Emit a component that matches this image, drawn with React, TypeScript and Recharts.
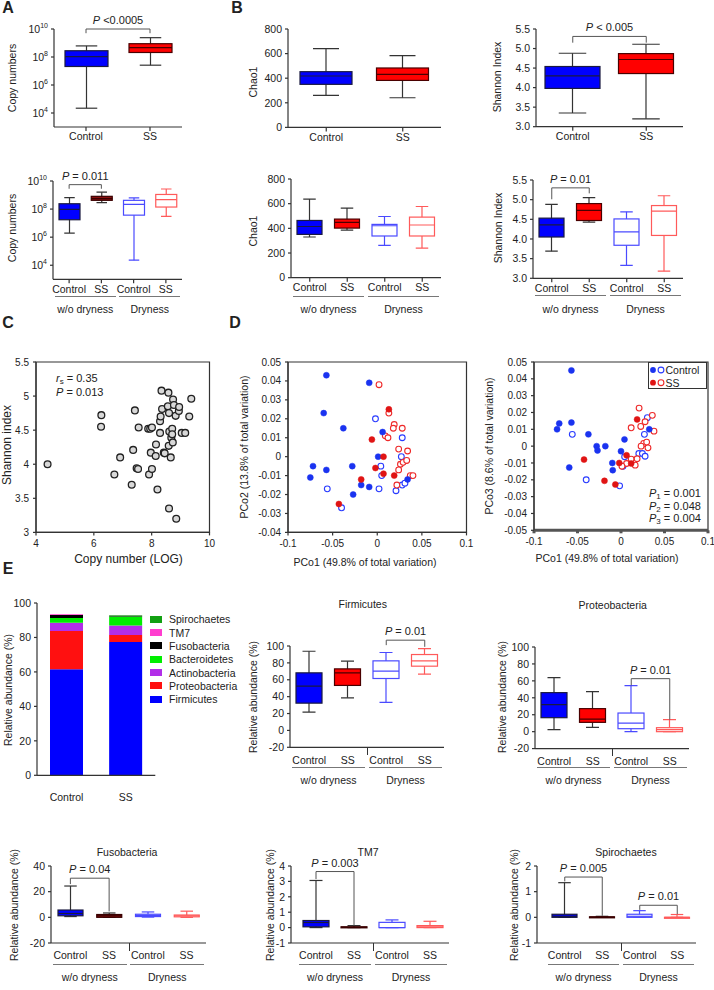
import React from 'react';
import {
  Bar,
  BarChart,
  ComposedChart,
  ReferenceArea,
  ReferenceLine,
  Scatter,
  ScatterChart,
  XAxis,
  YAxis
} from 'recharts';

type Five = [number, number, number, number, number]; // min, q1, median, q3, max
type Kind = 'fb' | 'fr' | 'dr' | 'ob' | 'or';
type Pt = [number, number];
type Bracket = { a: number; b: number; y: number; ya: number; yb: number; text: string };

const FONT = '"Liberation Sans", Arial, Helvetica, sans-serif';
const INK = '#222';
const AXIS = '#333';

// ---------- A / B ----------
const twoGroups = ['Control', 'SS'];
const fourGroups = ['Control', 'SS', 'Control', 'SS'];
const dryGroups = ['w/o dryness', 'Dryness'];

const logTicks = [1e4, 1e6, 1e8, 1e10];
const chaoTicks = [0, 200, 400, 600, 800];
const shannonTicks = [3, 3.5, 4, 4.5, 5, 5.5];

const copyAll: Five[] = [
  [2.2e4, 2.1e7, 1.05e8, 2.8e8, 6.2e8],
  [2.6e7, 2.1e8, 4.7e8, 8.9e8, 2.4e9]
];
const copyByDryness: Five[] = [
  [1.95e6, 1.74e7, 9.5e7, 2.4e8, 6.5e8],
  [2.9e8, 4.2e8, 5.5e8, 8.1e8, 1.6e9],
  [2.3e4, 3.7e7, 2.2e8, 4.2e8, 6.2e8],
  [3.0e7, 1.4e8, 4.7e8, 1.1e9, 2.7e9]
];
const chaoAll: Five[] = [
  [260, 350, 418, 453, 640],
  [241, 382, 431, 483, 583]
];
const shannonAll: Five[] = [
  [3.35, 3.98, 4.3, 4.54, 4.88],
  [3.2, 4.36, 4.72, 4.87, 5.11]
];
const chaoByDryness: Five[] = [
  [330, 351, 415, 464, 637],
  [386, 402, 448, 475, 564],
  [262, 338, 421, 432, 496],
  [240, 338, 427, 491, 577]
];
const shannonByDryness: Five[] = [
  [3.69, 4.05, 4.36, 4.53, 4.88],
  [4.43, 4.47, 4.73, 4.9, 5.05],
  [3.33, 3.84, 4.18, 4.51, 4.69],
  [3.18, 4.09, 4.71, 4.85, 5.1]
];

// ---------- C ----------
const cXTicks = [4, 6, 8, 10];
const cYTicks = [3, 3.5, 4, 4.5, 5, 5.5];
const copyLog = [
  4.4, 6.26, 6.25, 6.71, 6.91, 7.31, 7.36, 7.42, 7.48, 7.53, 7.55, 7.88, 7.95, 8.01, 7.91, 8.01,
  7.97, 8.14, 8.15, 8.2, 8.29, 8.29, 8.31, 8.36, 8.34, 8.42, 8.45, 8.56, 8.58, 8.59, 8.6, 8.61,
  8.66, 8.6, 8.68, 8.71, 8.73, 8.74, 8.77, 8.71, 8.83, 8.85, 8.94, 8.95, 9.04, 9.16, 9.3, 9.37
];
const shannonIdx = [
  4.0, 4.72, 4.55, 3.85, 4.1, 3.7, 4.21, 4.79, 3.94, 3.93, 4.54, 4.52, 4.52, 4.54, 3.85, 3.93,
  4.17, 4.12, 4.29, 3.63, 4.46, 4.63, 4.7, 4.81, 5.08, 4.17, 4.16, 4.85, 5.05, 4.27, 4.75, 4.48,
  4.1, 3.35, 4.39, 4.52, 4.32, 4.95, 4.87, 4.44, 4.71, 3.2, 4.78, 4.84, 4.46, 4.46, 4.7, 4.96
];

// ---------- D ----------
const pcoXTicks = [-0.1, -0.05, 0, 0.05, 0.1];
const pco2Ticks = [-0.04, -0.03, -0.02, -0.01, 0, 0.01, 0.02, 0.03, 0.04, 0.05];
const pco3Ticks = [-0.05, -0.04, -0.03, -0.02, -0.01, 0, 0.01, 0.02, 0.03, 0.04, 0.05];

const pco2CtrlNoDry: Pt[] = [
  [-0.057, 0.043], [-0.06, 0.023], [-0.038, 0.015], [-0.072, -0.005], [-0.075, -0.011],
  [-0.057, -0.007], [-0.028, -0.005], [-0.027, -0.02], [-0.018, -0.015], [-0.009, -0.016],
  [-0.009, 0.039], [0.006, 0.013], [0.001, 0.0], [0.034, -0.012]
];
const pco2SsNoDry: Pt[] = [
  [0.013, 0.025], [-0.006, 0.009], [0.007, 0.0], [-0.002, -0.006], [0.007, -0.009],
  [-0.018, -0.012], [0.019, -0.01], [-0.043, -0.025]
];
const pco2CtrlDry: Pt[] = [
  [-0.002, 0.02], [0.028, 0.01], [0.027, 0.0], [0.004, -0.005], [0.005, -0.01],
  [-0.056, -0.017], [0.002, -0.017], [0.021, -0.018], [0.028, -0.015], [0.031, -0.014],
  [-0.04, -0.027]
];
const pco2SsDry: Pt[] = [
  [0.002, 0.038], [0.013, 0.023], [0.019, 0.017], [0.018, 0.015], [0.028, 0.015],
  [0.009, 0.011], [0.012, 0.01], [0.024, 0.004], [0.034, 0.003], [0.026, -0.004],
  [0.029, -0.003], [0.033, -0.002], [0.024, -0.007], [0.037, -0.01], [0.04, -0.01],
  [0.022, -0.015]
];
const pco3CtrlNoDry: Pt[] = [
  [-0.057, 0.045], [-0.071, 0.0135], [-0.0735, 0.01], [-0.057, 0.014], [-0.0375, 0.007],
  [-0.028, 0.0], [-0.027, -0.0026], [-0.018, 0.0], [-0.0595, -0.0127], [-0.01, -0.01],
  [-0.0095, -0.0143], [0.004, 0.004], [0.0, -0.003], [0.0325, 0.01]
];
const pco3SsNoDry: Pt[] = [
  [-0.0425, -0.008], [-0.019, -0.0206], [-0.0065, -0.0228], [-0.002, -0.01],
  [0.0064, -0.0054], [0.0117, -0.0103], [0.0185, 0.0159]
];
const pco3CtrlDry: Pt[] = [
  [-0.056, 0.007], [-0.04, -0.02], [-0.0016, -0.0236], [0.0023, -0.0119], [0.0042, -0.0063],
  [0.0205, -0.0044], [0.0246, -0.0044], [0.0277, -0.006], [0.0269, 0.007], [0.0303, 0.0169]
];
const pco3SsDry: Pt[] = [
  [0.0208, 0.0226], [0.0227, 0.0117], [0.0117, 0.0109], [0.0277, 0.0145], [0.036, 0.0183],
  [0.0379, 0.0089], [0.0261, 0.0016], [0.0295, 0.0024], [0.0231, 0.0], [0.031, -0.001],
  [0.0117, -0.0077], [0.0163, -0.0113], [0.0064, -0.0103], [0.0011, -0.0119], [0.0185, -0.0075]
];

// ---------- E ----------
const phyla = ['Firmicutes', 'Proteobacteria', 'Actinobacteria', 'Bacteroidetes', 'Fusobacteria', 'TM7', 'Spirochaetes'];
const phylaColors = ['#0000ff', '#ff1010', '#b22ee8', '#00ee00', '#000000', '#ff3dcf', '#12a012'];
const abundControl = [61.5, 22.2, 4.9, 2.7, 1.8, 0.3, 0.1];
const abundSS = [77.4, 4.0, 5.6, 5.1, 0.5, 0.05, 0.2];
const abundTicks = [0, 20, 40, 60, 80, 100];
const relTicks = [-20, 0, 20, 40, 60, 80, 100];
const fusoTicks = [-20, 0, 20, 40];
const tm7Ticks = [-1, 0, 1, 2, 3, 4];
const spiroTicks = [-1, 0, 1, 2];

const firmicutes: Five[] = [
  [21.7, 32.3, 52.4, 68.2, 93.8],
  [38.6, 53.3, 68.2, 72.9, 82],
  [33.1, 61.5, 70.2, 82.4, 92.3],
  [66.6, 76.1, 82.4, 89.9, 97]
];
const proteobacteria: Five[] = [
  [2.4, 16.5, 31.9, 46.1, 63.8],
  [5.1, 11, 14.9, 27.2, 47.3],
  [0, 3.5, 10.2, 22, 54.4],
  [0, 0, 2.4, 4.7, 14.2]
];
const fusobacteria: Five[] = [
  [0.6, 1.2, 3.0, 5.7, 24.4],
  [0, 0, 1.2, 2.2, 3.4],
  [0.2, 0.6, 1.4, 2.4, 4.2],
  [0, 0.4, 1.2, 1.8, 4.8]
];
const tm7: Five[] = [
  [0, 0.05, 0.33, 0.46, 3.06],
  [0, 0, 0.03, 0.05, 0.13],
  [0, 0, 0, 0.34, 0.5],
  [0, 0, 0.05, 0.13, 0.41]
];
const spirochaetes: Five[] = [
  [0, 0, 0.04, 0.12, 1.35],
  [0, 0, 0.01, 0.02, 0.04],
  [0, 0, 0.04, 0.12, 0.26],
  [0, 0, 0, 0, 0.11]
];

const kinds2: Kind[] = ['fb', 'fr'];
const kinds4: Kind[] = ['fb', 'fr', 'ob', 'or'];
const kinds4dark: Kind[] = ['fb', 'dr', 'ob', 'or'];

const KIND: Record<Kind, { fill: string; stroke: string; wh: string }> = {
  fb: { fill: '#0000ff', stroke: '#1a1a40', wh: '#333' },
  fr: { fill: '#ff0000', stroke: '#4a0000', wh: '#333' },
  dr: { fill: '#8b1010', stroke: '#3a0000', wh: '#333' },
  ob: { fill: '#ffffff', stroke: '#4a4aff', wh: '#4a4aff' },
  or: { fill: '#ffffff', stroke: '#ff5a5a', wh: '#ff5a5a' }
};

function Txt({ x, y, children, size = 10.5, anchor = 'middle', rot = false, bold = false }: any) {
  const tx = anchor === 'start' ? '0' : anchor === 'end' ? '-100%' : '-50%';
  return (
    <div
      style={{
        position: 'absolute',
        left: x,
        top: y,
        transform: `translate(${tx},-50%)` + (rot ? ' rotate(-90deg)' : ''),
        whiteSpace: 'nowrap',
        fontSize: size,
        fontWeight: bold ? 700 : 400,
        lineHeight: 1,
        color: INK
      }}
    >
      {children}
    </div>
  );
}

function boxShape(log: boolean) {
  return (props: any) => {
    const { x, y, width, height, payload } = props;
    const [mn, q1, md, q3, mx] = payload.s as Five;
    const top = Math.min(y, y + height);
    const bot = Math.max(y, y + height);
    const f = log ? Math.log10 : (v: number) => v;
    const span = f(mx) - f(mn) || 1;
    const py = (v: number) => top + ((f(mx) - f(v)) / span) * (bot - top);
    const k = KIND[payload.kind as Kind];
    const cx = x + width / 2;
    const cap = width / 4;
    const bTop = py(q3);
    const bH = Math.max(py(q1) - bTop, 1);
    return (
      <g>
        <line x1={cx} x2={cx} y1={top} y2={bot} stroke={k.wh} strokeWidth={1.2} />
        <line x1={cx - cap} x2={cx + cap} y1={top} y2={top} stroke={k.wh} strokeWidth={1.2} />
        <line x1={cx - cap} x2={cx + cap} y1={bot} y2={bot} stroke={k.wh} strokeWidth={1.2} />
        <rect x={x} y={bTop} width={width} height={bH} fill={k.fill} stroke={k.stroke} strokeWidth={1.2} />
        <line x1={x} x2={x + width} y1={py(md)} y2={py(md)} stroke={k.stroke} strokeWidth={1.2} />
      </g>
    );
  };
}

const LogTick = (props: any) => {
  const { x, y, payload } = props;
  const e = Math.round(Math.log10(payload.value));
  return (
    <text x={x} y={y} dy={4} textAnchor="end" fontSize={10.5} fill={INK}>
      10<tspan dy={-5} fontSize={7}>{e}</tspan>
    </text>
  );
};

const pLabel = (text: string) => (props: any) => {
  const vb = props.viewBox || {};
  const x = vb.x1 !== undefined ? (vb.x1 + vb.x2) / 2 : (vb.x ?? 0) + (vb.width ?? 0) / 2;
  const y = vb.y1 !== undefined ? Math.min(vb.y1, vb.y2) : vb.y ?? 0;
  return (
    <text x={x} y={y - 5} textAnchor="middle" fontSize={11} fill={INK} style={{ whiteSpace: 'pre' }}>
      <tspan fontStyle="italic">P</tspan>
      {text}
    </text>
  );
};

type BoxPanelProps = {
  px: number; py: number; pw: number; ph: number;
  labels: string[]; stats: Five[]; kinds: Kind[];
  domain: [number, number]; ticks: number[];
  log?: boolean; boxW: number; padL?: number;
  fmt?: (v: number) => string;
  brackets?: Bracket[];
  xTickLine?: boolean; xGap?: number;
  groupLineY?: number; groupLabelY?: number; midTick?: boolean;
};

function BoxPanel(p: BoxPanelProps) {
  const { px, py, pw, ph, labels, stats, kinds, domain, ticks, log = false, boxW, padL = 0, fmt, brackets = [], xTickLine = true, xGap = 2 } = p;
  const data = labels.map((label, i) => ({ key: 'k' + i, label, range: [stats[i][0], stats[i][4]], s: stats[i], kind: kinds[i] }));
  const labelOf: Record<string, string> = {};
  data.forEach((d) => (labelOf[d.key] = d.label));
  const ML = 50, MT = 30, MB = 30, MR = 12;
  const band = (pw - padL) / labels.length;
  const cx = (i: number) => px + padL + band * (i + 0.5);
  return (
    <>
      <div style={{ position: 'absolute', left: px - ML, top: py - MT }}>
        <ComposedChart width={pw + ML + MR} height={ph + MT + MB} data={data} margin={{ top: MT, right: MR, bottom: 0, left: 0 }}>
          <XAxis
            dataKey="key"
            height={MB}
            interval={0}
            padding={{ left: padL, right: 0 }}
            tickFormatter={(v: string) => labelOf[v]}
            stroke={AXIS}
            strokeWidth={1.2}
            tickLine={xTickLine}
            tickSize={xTickLine ? 4 : 0}
            tickMargin={xGap}
            tick={{ fill: INK, fontSize: 10.5 }}
          />
          <YAxis
            width={ML}
            type="number"
            domain={domain}
            ticks={ticks}
            scale={log ? 'log' : 'linear'}
            allowDataOverflow
            interval={0}
            stroke={AXIS}
            strokeWidth={1.2}
            tickSize={3}
            tickMargin={3}
            tick={log ? LogTick : { fill: INK, fontSize: 10.5 }}
            tickFormatter={fmt}
          />
          <Bar dataKey="range" barSize={boxW} shape={boxShape(log)} isAnimationActive={false} />
          {brackets.map((b, i) => (
            <ReferenceLine
              key={'h' + i}
              segment={[{ x: 'k' + b.a, y: b.y }, { x: 'k' + b.b, y: b.y }]}
              stroke="#555"
              ifOverflow="visible"
              label={pLabel(b.text)}
            />
          ))}
          {brackets.map((b, i) => (
            <ReferenceLine key={'l' + i} segment={[{ x: 'k' + b.a, y: b.y }, { x: 'k' + b.a, y: b.ya }]} stroke="#555" ifOverflow="visible" />
          ))}
          {brackets.map((b, i) => (
            <ReferenceLine key={'r' + i} segment={[{ x: 'k' + b.b, y: b.y }, { x: 'k' + b.b, y: b.yb }]} stroke="#555" ifOverflow="visible" />
          ))}
        </ComposedChart>
      </div>
      {p.groupLineY !== undefined &&
        [0, 1].map((g) => {
          const x1 = cx(2 * g) - band * 0.45;
          const x2 = cx(2 * g + 1) + band * 0.45;
          return (
            <React.Fragment key={g}>
              <div style={{ position: 'absolute', left: x1, top: p.groupLineY, width: x2 - x1, borderTop: '1.2px solid #777' }} />
              <Txt x={(x1 + x2) / 2} y={p.groupLabelY}>{dryGroups[g]}</Txt>
            </React.Fragment>
          );
        })}
      {p.midTick && (
        <div style={{ position: 'absolute', left: px + padL + 2 * band, top: py + ph, height: 8, borderLeft: `1.2px solid ${AXIS}` }} />
      )}
    </>
  );
}

type Series = { pts: Pt[]; fill: string; stroke: string; r: number; sw: number };

const dot = (s: Series) => (props: any) => (
  <circle cx={props.cx} cy={props.cy} r={s.r} fill={s.fill} stroke={s.stroke} strokeWidth={s.sw} />
);

function ScatterPanel({ px, py, pw, ph, xDomain, yDomain, xTicks, yTicks, series, fmt, bottomStroke = 1.2, bottomColor = AXIS }: any) {
  const ML = 50, MT = 10, MB = 30, MR = 10;
  return (
    <div style={{ position: 'absolute', left: px - ML, top: py - MT }}>
      <ScatterChart width={pw + ML + MR} height={ph + MT + MB} margin={{ top: MT, right: MR, bottom: 0, left: 0 }}>
        <XAxis
          type="number"
          dataKey="x"
          domain={xDomain}
          ticks={xTicks}
          interval={0}
          allowDataOverflow
          height={MB}
          stroke={bottomColor}
          strokeWidth={bottomStroke}
          tickSize={3}
          tickMargin={5}
          tickFormatter={fmt}
          tick={{ fill: INK, fontSize: 10 }}
        />
        <YAxis
          type="number"
          dataKey="y"
          domain={yDomain}
          ticks={yTicks}
          interval={0}
          allowDataOverflow
          width={ML}
          stroke={AXIS}
          strokeWidth={1.2}
          tickSize={3}
          tickMargin={4}
          tickFormatter={fmt}
          tick={{ fill: INK, fontSize: 10 }}
        />
        <ReferenceArea x1={xDomain[0]} x2={xDomain[1]} y1={yDomain[0]} y2={yDomain[1]} fill="none" stroke={AXIS} strokeWidth={1.2} ifOverflow="visible" />
        {series.map((s: Series, i: number) => (
          <Scatter key={i} data={s.pts.map(([x, y]) => ({ x, y }))} shape={dot(s)} isAnimationActive={false} />
        ))}
      </ScatterChart>
    </div>
  );
}

const pcoFmt = (v: number) => (Math.abs(v) < 1e-9 ? '0' : String(Number(v.toFixed(2))));
const BLUE = '#1a33f0';
const RED = '#e01414';
const dSeries = (cnd: Pt[], snd: Pt[], cd: Pt[], sd: Pt[]): Series[] => [
  { pts: cd, fill: '#fff', stroke: '#2a3cff', r: 2.9, sw: 1.1 },
  { pts: sd, fill: '#fff', stroke: '#ee2a2a', r: 2.9, sw: 1.1 },
  { pts: cnd, fill: BLUE, stroke: BLUE, r: 3, sw: 0.5 },
  { pts: snd, fill: RED, stroke: RED, r: 3, sw: 0.5 }
];

const cPoints: Pt[] = copyLog.map((c, i) => [c, shannonIdx[i]]);

const stackRows = twoGroups.map((name, i) => {
  const row: Record<string, string | number> = { name };
  phyla.forEach((ph, j) => (row[ph] = (i === 0 ? abundControl : abundSS)[j]));
  return row;
});

const RA = 'Relative abundance (%)';

// bottom row of panel E
const ROW3_TOP = 866;
const ROW3_H = 77;

export default function App() {
  return (
    <div style={{ position: 'absolute', left: 0, top: 0, width: 714, height: 990, background: '#fff', fontFamily: FONT, color: INK, overflow: 'hidden' }}>
      {/* letters */}
      <Txt x={8} y={8} size={16} bold>A</Txt>
      <Txt x={237} y={8} size={16} bold>B</Txt>
      <Txt x={8} y={323} size={16} bold>C</Txt>
      <Txt x={235} y={323} size={16} bold>D</Txt>
      <Txt x={8} y={569} size={16} bold>E</Txt>

      {/* A */}
      <BoxPanel px={54} py={29} pw={128} ph={98} labels={twoGroups} stats={copyAll} kinds={kinds2} domain={[1e3, 1e10]} ticks={logTicks} log boxW={43}
        brackets={[{ a: 0, b: 1, y: 1e10, ya: 5e9, yb: 5e9, text: ' <0.0005' }]} />
      <Txt x={12} y={77.5} rot>Copy numbers</Txt>
      <BoxPanel px={53} py={180.7} pw={129} ph={98.3} labels={fourGroups} stats={copyByDryness} kinds={kinds4dark} domain={[1e3, 1e10]} ticks={logTicks} log boxW={21}
        brackets={[{ a: 0, b: 1, y: 5.5e9, ya: 2.8e9, yb: 2.8e9, text: ' = 0.011' }]} groupLineY={295.7} groupLabelY={309.3} />
      <Txt x={12} y={228} rot>Copy numbers</Txt>

      {/* B */}
      <BoxPanel px={288} py={29.3} pw={153} ph={98.4} labels={twoGroups} stats={chaoAll} kinds={kinds2} domain={[0, 800]} ticks={chaoTicks} boxW={52} />
      <Txt x={253} y={81.7} rot>Chao1</Txt>
      <BoxPanel px={536} py={29.3} pw={147} ph={97.7} labels={twoGroups} stats={shannonAll} kinds={kinds2} domain={[3, 5.5]} ticks={shannonTicks} boxW={55}
        fmt={(v) => v.toFixed(1)} brackets={[{ a: 0, b: 1, y: 5.31, ya: 5.15, yb: 5.15, text: ' < 0.005' }]} />
      <Txt x={497} y={77} rot>Shannon Index</Txt>
      <BoxPanel px={291} py={179.3} pw={150} ph={98.7} labels={fourGroups} stats={chaoByDryness} kinds={kinds4} domain={[0, 800]} ticks={chaoTicks} boxW={25}
        groupLineY={296} groupLabelY={309} />
      <Txt x={253} y={231} rot>Chao1</Txt>
      <BoxPanel px={533} py={180} pw={150} ph={98.3} labels={fourGroups} stats={shannonByDryness} kinds={kinds4} domain={[3, 5.5]} ticks={shannonTicks} boxW={25}
        fmt={(v) => v.toFixed(1)} brackets={[{ a: 0, b: 1, y: 5.3, ya: 5.01, yb: 5.16, text: ' = 0.01' }]} groupLineY={295} groupLabelY={309} />
      <Txt x={497.5} y={228} rot>Shannon Index</Txt>

      {/* C */}
      <ScatterPanel px={36} py={362.3} pw={173.5} ph={170.4} xDomain={[4, 10]} yDomain={[3, 5.5]} xTicks={cXTicks} yTicks={cYTicks}
        series={[{ pts: cPoints, fill: '#d8d8d8', stroke: '#222', r: 3.4, sw: 1.3 }]} />
      <Txt x={7} y={445} size={12} rot>Shannon index</Txt>
      <Txt x={128.5} y={559} size={12}>Copy number (LOG)</Txt>
      <Txt x={56} y={379} anchor="start" size={11}>
        <i>r</i><span style={{ fontSize: 8, verticalAlign: '-2px' }}>s</span> = 0.35
      </Txt>
      <Txt x={56} y={391.7} anchor="start" size={11}><i>P</i> = 0.013</Txt>

      {/* D */}
      <ScatterPanel px={287.5} py={362.3} pw={178.5} ph={170.4} xDomain={[-0.1, 0.1]} yDomain={[-0.04, 0.05]} xTicks={pcoXTicks} yTicks={pco2Ticks}
        fmt={pcoFmt} series={dSeries(pco2CtrlNoDry, pco2SsNoDry, pco2CtrlDry, pco2SsDry)} />
      <Txt x={244} y={447} rot>PCo2 (13.8% of total variation)</Txt>
      <Txt x={365} y={562}>PCo1 (49.8% of total variation)</Txt>
      <ScatterPanel px={534} py={361.7} pw={174} ph={168.3} xDomain={[-0.1, 0.1]} yDomain={[-0.05, 0.05]} xTicks={pcoXTicks} yTicks={pco3Ticks}
        fmt={pcoFmt} series={dSeries(pco3CtrlNoDry, pco3SsNoDry, pco3CtrlDry, pco3SsDry)} bottomStroke={3} bottomColor="#555" />
      <Txt x={489} y={446} rot>PCo3 (8.6% of total variation)</Txt>
      <Txt x={607} y={558}>PCo1 (49.8% of total variation)</Txt>
      <div style={{ position: 'absolute', left: 648, top: 362, width: 59, height: 27, border: '1px solid #333', background: '#fff', boxSizing: 'border-box' }} />
      <svg style={{ position: 'absolute', left: 0, top: 0 }} width={714} height={400}>
        <circle cx={653} cy={370} r={2.9} fill={BLUE} />
        <circle cx={661} cy={370} r={2.9} fill="#fff" stroke="#2a3cff" strokeWidth={1.1} />
        <circle cx={653} cy={382.7} r={2.9} fill={RED} />
        <circle cx={661} cy={382.7} r={2.9} fill="#fff" stroke="#ee2a2a" strokeWidth={1.1} />
      </svg>
      <Txt x={665.5} y={370} anchor="start">Control</Txt>
      <Txt x={665.5} y={382.7} anchor="start">SS</Txt>
      {['1', '2', '3'].map((n, i) => (
        <Txt key={n} x={649} y={494 + i * 12.5} anchor="start" size={11}>
          <i>P</i><span style={{ fontSize: 8, verticalAlign: '-2px' }}>{n}</span> = {['0.001', '0.048', '0.004'][i]}
        </Txt>
      ))}

      {/* E stacked */}
      <div style={{ position: 'absolute', left: 36.7 - 50, top: 602.7 - 10 }}>
        <BarChart width={118.3 + 60} height={172.3 + 40} data={stackRows} margin={{ top: 10, right: 10, bottom: 0, left: 0 }}>
          <XAxis dataKey="name" height={30} interval={0} stroke={AXIS} strokeWidth={1.2} tickLine={false} tickSize={0} tickMargin={18} tick={{ fill: INK, fontSize: 10.5 }} />
          <YAxis width={50} type="number" domain={[0, 100]} ticks={abundTicks} interval={0} stroke={AXIS} strokeWidth={1.2} tickSize={3} tickMargin={3} tick={{ fill: INK, fontSize: 10.5 }} />
          {phyla.map((ph, j) => (
            <Bar key={ph} dataKey={ph} stackId="a" fill={phylaColors[j]} barSize={33} isAnimationActive={false} />
          ))}
        </BarChart>
      </div>
      <Txt x={8} y={690} rot>{RA}</Txt>
      {phyla
        .map((ph, j) => ({ ph, c: phylaColors[j] }))
        .reverse()
        .map((d, i) => (
          <React.Fragment key={d.ph}>
            <div style={{ position: 'absolute', left: 150, top: 619.3 + i * 13.33 - 3.5, width: 12, height: 7, background: d.c }} />
            <Txt x={169} y={619.3 + i * 13.33} anchor="start">{d.ph}</Txt>
          </React.Fragment>
        ))}

      {/* E boxes */}
      <Txt x={362.7} y={604}>Firmicutes</Txt>
      <BoxPanel px={290} py={645.7} pw={154} ph={101.3} labels={fourGroups} stats={firmicutes} kinds={kinds4} domain={[-20, 100]} ticks={relTicks} boxW={26}
        xTickLine={false} xGap={9} midTick groupLineY={767} groupLabelY={780}
        brackets={[{ a: 2, b: 3, y: 106.9, ya: 101, yb: 99, text: ' = 0.01' }]} />
      <Txt x={253} y={697} rot>{RA}</Txt>

      <Txt x={612.7} y={604.7}>Proteobacteria</Txt>
      <BoxPanel px={535} py={646.7} pw={154} ph={101.6} labels={fourGroups} stats={proteobacteria} kinds={kinds4} domain={[-20, 100]} ticks={relTicks} boxW={26}
        xTickLine={false} xGap={9} midTick groupLineY={767} groupLabelY={780}
        brackets={[{ a: 2, b: 3, y: 62.6, ya: 54.7, yb: 14.2, text: ' = 0.01' }]} />
      <Txt x={502} y={697} rot>{RA}</Txt>

      <Txt x={127} y={852}>Fusobacteria</Txt>
      <BoxPanel px={51} py={ROW3_TOP} pw={155} ph={ROW3_H} labels={fourGroups} stats={fusobacteria} kinds={kinds4dark} domain={[-20, 40]} ticks={fusoTicks} boxW={25}
        xTickLine={false} xGap={9} midTick groupLineY={964} groupLabelY={977}
        brackets={[{ a: 0, b: 1, y: 30.5, ya: 25.9, yb: 4.6, text: ' = 0.04' }]} />
      <Txt x={14} y={905} rot>{RA}</Txt>

      <Txt x={368} y={852}>TM7</Txt>
      <BoxPanel px={291} py={ROW3_TOP} pw={158} ph={ROW3_H} padL={6} labels={fourGroups} stats={tm7} kinds={kinds4dark} domain={[-1, 4]} ticks={tm7Ticks} boxW={26}
        xTickLine={false} xGap={9} midTick groupLineY={964} groupLabelY={977}
        brackets={[{ a: 0, b: 1, y: 3.64, ya: 3.15, yb: 0.14, text: ' = 0.003' }]} />
      <Txt x={270} y={905} rot>{RA}</Txt>

      <Txt x={626} y={852}>Spirochaetes</Txt>
      <BoxPanel px={537} py={ROW3_TOP} pw={159} ph={ROW3_H} padL={9} labels={fourGroups} stats={spirochaetes} kinds={kinds4dark} domain={[-1, 2]} ticks={spiroTicks} boxW={25}
        xTickLine={false} xGap={9} midTick groupLineY={964} groupLabelY={977}
        brackets={[
          { a: 0, b: 1, y: 1.57, ya: 1.4, yb: 0.06, text: ' = 0.005' },
          { a: 2, b: 3, y: 0.47, ya: 0.29, yb: 0.12, text: ' = 0.01' }
        ]} />
      <Txt x={514} y={905} rot>{RA}</Txt>
    </div>
  );
}
